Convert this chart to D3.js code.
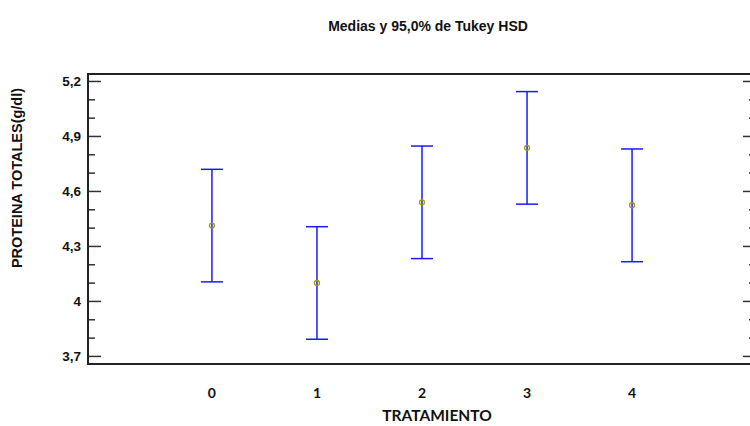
<!DOCTYPE html>
<html>
<head>
<meta charset="utf-8">
<script src="https://cdn.jsdelivr.net/npm/d3@7"></script>
<style>
  html, body { margin: 0; padding: 0; background: #fff; }
  svg { display: block; }
</style>
</head>
<body>
<svg id="chart" width="750" height="426"></svg>
<script>
// Tukey HSD 95% intervals for protein by treatment
const treatments = ["0", "1", "2", "3", "4"];
const means      = [4.411, 4.098, 4.538, 4.835, 4.522];
const lowerLimit = [4.104, 3.791, 4.231, 4.528, 4.214];
const upperLimit = [4.718, 4.405, 4.845, 5.142, 4.829];
const yTickValues = [3.7, 4.0, 4.3, 4.6, 4.9, 5.2];
const yTickLabels = ["3,7", "4", "4,3", "4,6", "4,9", "5,2"];
const yMinorTicks = [3.8, 3.9, 4.1, 4.2, 4.4, 4.5, 4.7, 4.8, 5.0, 5.1];

const svg = d3.select("#chart");
const plot = { left: 88, right: 756, top: 74, bottom: 364 };

const x = d3.scalePoint()
  .domain(treatments)
  .range([plot.left, plot.right])
  .padding(1.18);

const y = d3.scaleLinear()
  .domain([3.656, 5.238])
  .range([plot.bottom, plot.top]);

// Inward tick marks on both vertical sides
const minorL = d3.axisRight(y).tickValues(yMinorTicks).tickSize(7).tickFormat("");
const minorR = d3.axisLeft(y).tickValues(yMinorTicks).tickSize(7).tickFormat("");
const majorL = d3.axisRight(y).tickValues(yTickValues).tickSize(13).tickFormat("");
const majorR = d3.axisLeft(y).tickValues(yTickValues).tickSize(13).tickFormat("");

function styleAxis(g) {
  g.select(".domain").remove();
  g.selectAll(".tick line").attr("stroke", "#333").attr("stroke-width", 1.5);
}
svg.append("g").attr("transform", `translate(${plot.left},0)`).call(minorL).call(styleAxis);
svg.append("g").attr("transform", `translate(${plot.left},0)`).call(majorL).call(styleAxis);
svg.append("g").attr("transform", `translate(${plot.right},0)`).call(minorR).call(styleAxis);
svg.append("g").attr("transform", `translate(${plot.right},0)`).call(majorR).call(styleAxis);

// Y tick labels
svg.append("g").selectAll("text")
  .data(yTickValues)
  .join("text")
  .attr("x", plot.left - 7)
  .attr("y", d => y(d))
  .attr("dy", "0.36em")
  .attr("text-anchor", "end")
  .style("font-family", "'Liberation Sans', Arial, sans-serif")
  .style("font-weight", "bold")
  .style("font-size", "13.5px")
  .attr("fill", "#111")
  .text((d, i) => yTickLabels[i]);

// Frame
svg.append("rect")
  .attr("x", plot.left).attr("y", plot.top)
  .attr("width", plot.right - plot.left).attr("height", plot.bottom - plot.top)
  .attr("fill", "none").attr("stroke", "#222").attr("stroke-width", 2);

// X tick labels
svg.append("g").selectAll("text")
  .data(treatments)
  .join("text")
  .attr("x", d => x(d))
  .attr("y", 398)
  .attr("text-anchor", "middle")
  .style("font-family", "Lato, 'Open Sans', sans-serif")
  .style("font-weight", "bold")
  .style("font-size", "14px")
  .attr("fill", "#111")
  .text(d => d);

// Error bars with caps and mean markers
const bars = svg.append("g").selectAll("g")
  .data(treatments)
  .join("g");
bars.append("line")
  .attr("x1", d => x(d)).attr("x2", d => x(d))
  .attr("y1", (d, i) => y(upperLimit[i])).attr("y2", (d, i) => y(lowerLimit[i]))
  .attr("stroke", "#1a1aff").attr("stroke-width", 1.5);
bars.append("line")
  .attr("x1", d => x(d) - 11).attr("x2", d => x(d) + 11)
  .attr("y1", (d, i) => y(upperLimit[i])).attr("y2", (d, i) => y(upperLimit[i]))
  .attr("stroke", "#1a1aff").attr("stroke-width", 1.5);
bars.append("line")
  .attr("x1", d => x(d) - 11).attr("x2", d => x(d) + 11)
  .attr("y1", (d, i) => y(lowerLimit[i])).attr("y2", (d, i) => y(lowerLimit[i]))
  .attr("stroke", "#1a1aff").attr("stroke-width", 1.5);
bars.append("circle")
  .attr("cx", d => x(d))
  .attr("cy", (d, i) => y(means[i]))
  .attr("r", 2.5)
  .attr("fill", "none")
  .attr("stroke", "#a09a10")
  .attr("stroke-width", 1.3);

// Titles
svg.append("text")
  .attr("x", 428).attr("y", 31)
  .attr("text-anchor", "middle")
  .style("font-family", "'Liberation Sans', Arial, sans-serif")
  .style("font-weight", "bold")
  .style("font-size", "14px")
  .attr("fill", "#111")
  .text("Medias y 95,0% de Tukey HSD");

svg.append("text")
  .attr("x", 437).attr("y", 421)
  .attr("text-anchor", "middle")
  .style("font-family", "Lato, 'Open Sans', sans-serif")
  .style("font-weight", "bold")
  .style("font-size", "15.5px")
  .attr("fill", "#111")
  .text("TRATAMIENTO");

svg.append("text")
  .attr("transform", "translate(22,178) rotate(-90)")
  .attr("text-anchor", "middle")
  .style("font-family", "'Liberation Sans', Arial, sans-serif")
  .style("font-weight", "bold")
  .style("font-size", "14.5px")
  .attr("fill", "#111")
  .text("PROTEINA TOTALES(g/dl)");
</script>
</body>
</html>
